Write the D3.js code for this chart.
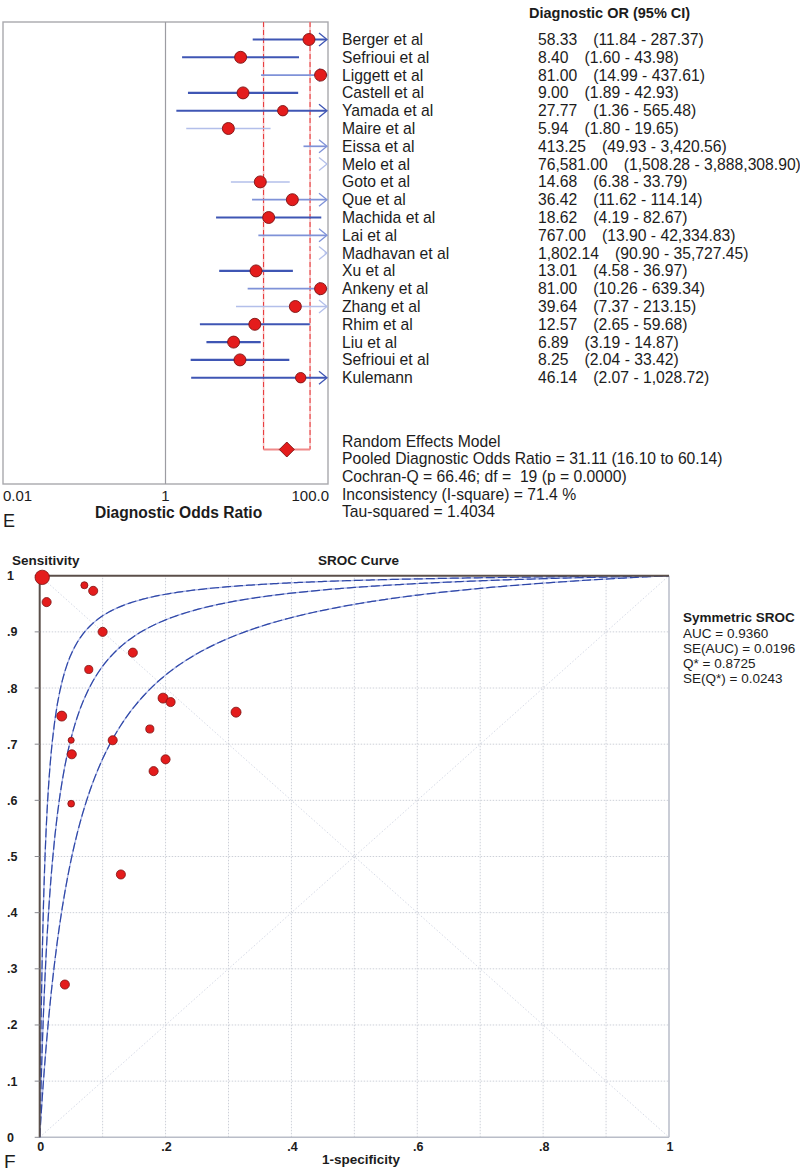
<!DOCTYPE html>
<html>
<head>
<meta charset="utf-8">
<script src="https://cdn.jsdelivr.net/npm/d3@7"></script>
<style>
  html, body { margin: 0; padding: 0; background: #fff; }
  svg { display: block; }
  text { font-family: Arial, "Liberation Sans", sans-serif; fill: #1c1c1c; }
</style>
</head>
<body>
<svg id="chart" width="800" height="1175"></svg>
<script>
// ---------------- Forest plot data ----------------
const studies = ["Berger et al", "Sefrioui et al", "Liggett et al", "Castell et al", "Yamada et al",
  "Maire et al", "Eissa et al", "Melo et al", "Goto et al", "Que et al", "Machida et al", "Lai et al",
  "Madhavan et al", "Xu et al", "Ankeny et al", "Zhang et al", "Rhim et al", "Liu et al",
  "Sefrioui et al", "Kulemann"];
const dorValues = [58.33, 8.40, 81.00, 9.00, 27.77, 5.94, 413.25, 76581.00, 14.68, 36.42, 18.62,
  767.00, 1802.14, 13.01, 81.00, 39.64, 12.57, 6.89, 8.25, 46.14];
const ciLower = [11.84, 1.60, 14.99, 1.89, 1.36, 1.80, 49.93, 1508.28, 6.38, 11.62, 4.19, 13.90,
  90.90, 4.58, 10.26, 7.37, 2.65, 3.19, 2.04, 2.07];
const ciUpper = [287.37, 43.98, 437.61, 42.93, 565.48, 19.65, 3420.56, 3888308.90, 33.79, 114.14,
  82.67, 42334.83, 35727.45, 36.97, 639.34, 213.15, 59.68, 14.87, 33.42, 1028.72];
const pooled = [31.11, 16.10, 60.14];
const forestTicks = [0.01, 1, 100];
const forestTickLabels = ["0.01", "1", "100.0"];
const summaryLines = ["Random Effects Model",
  "Pooled Diagnostic Odds Ratio = 31.11 (16.10 to 60.14)",
  "Cochran-Q = 66.46; df =  19 (p = 0.0000)",
  "Inconsistency (I-square) = 71.4 %",
  "Tau-squared = 1.4034"];

// ---------------- SROC data ----------------
const srocFPR = [0.004, 0.011, 0.071, 0.085, 0.100, 0.148, 0.078, 0.196, 0.208, 0.312,
  0.035, 0.175, 0.050, 0.116, 0.051, 0.200, 0.181, 0.050, 0.129, 0.040];
const srocTPR = [0.997, 0.953, 0.983, 0.973, 0.900, 0.863, 0.833, 0.782, 0.775, 0.757,
  0.750, 0.727, 0.707, 0.707, 0.682, 0.673, 0.652, 0.594, 0.468, 0.272];
const srocWeight = [5.0, 2.0, 1.2, 2.0, 2.0, 2.0, 1.6, 2.4, 2.0, 2.4,
  2.4, 1.6, 0.9, 2.0, 2.0, 2.0, 2.0, 1.1, 2.0, 2.0];
const srocCurveDOR = [117, 46.83, 18.6];   // upper band, Symmetric SROC, lower band
const srocTicks = [0, 0.1, 0.2, 0.3, 0.4, 0.5, 0.6, 0.7, 0.8, 0.9, 1];
const srocYLabels = ["0", ".1", ".2", ".3", ".4", ".5", ".6", ".7", ".8", ".9", "1"];
const srocXTicks = [0, 0.2, 0.4, 0.6, 0.8, 1];
const srocXLabels = ["0", ".2", ".4", ".6", ".8", "1"];
const srocStats = ["AUC = 0.9360", "SE(AUC) = 0.0196", "Q* = 0.8725", "SE(Q*) = 0.0243"];

// ---------------- Styling helpers ----------------
const mediumRows = new Set([2, 6, 9, 11, 14]);
const lightRows = new Set([5, 7, 8, 12, 15]);
const darkBlue = "#3f56b4", medBlue = "#7f92d8", lightBlue = "#b3bfea";
function rowColor(i) { return lightRows.has(i) ? lightBlue : mediumRows.has(i) ? medBlue : darkBlue; }

const svg = d3.select("#chart");
const fmt = d3.format(",.2f");

// ================= FOREST PLOT =================
const fx = d3.scaleLog().domain([0.01, 100]).range([3, 328]);
const fy = d3.scaleLinear().domain([0, studies.length - 1]).range([39.5, 377.7]);
const fTop = 22, fBottom = 484, summaryY = 449.5;
const forest = svg.append("g");

// frame
forest.append("rect").attr("x", fx(0.01)).attr("y", fTop)
  .attr("width", fx(100) - fx(0.01)).attr("height", fBottom - fTop)
  .attr("fill", "none").attr("stroke", "#a9a9ad").attr("stroke-width", 1.4);
forest.append("line").attr("x1", fx(1)).attr("x2", fx(1)).attr("y1", fTop).attr("y2", fBottom)
  .attr("stroke", "#9c9ca2").attr("stroke-width", 1.2);

// pooled CI bracket
[pooled[1], pooled[2]].forEach(v => {
  forest.append("line").attr("x1", fx(v)).attr("x2", fx(v)).attr("y1", fTop).attr("y2", summaryY)
    .attr("stroke", "#f6c2c2").attr("stroke-width", 1.6);
  forest.append("line").attr("x1", fx(v)).attr("x2", fx(v)).attr("y1", fTop).attr("y2", summaryY)
    .attr("stroke", "#e8383a").attr("stroke-width", 1).attr("stroke-dasharray", "5,3");
});
forest.append("line").attr("x1", fx(pooled[1])).attr("x2", fx(pooled[2]))
  .attr("y1", summaryY).attr("y2", summaryY).attr("stroke", "#f08a8a").attr("stroke-width", 2);

// CI lines
const xmin = 0.01, xmax = 100;
studies.forEach((s, i) => {
  const lo = Math.max(ciLower[i], xmin);
  const hiClipped = ciUpper[i] > xmax;
  const y = fy(i);
  const col = rowColor(i);
  const sw = lightRows.has(i) ? 1.5 : mediumRows.has(i) ? 1.7 : 2.1;
  if (ciLower[i] < xmax) {
    forest.append("line")
      .attr("x1", fx(lo)).attr("x2", hiClipped ? fx(xmax) - 2 : fx(ciUpper[i]))
      .attr("y1", y).attr("y2", y).attr("stroke", col).attr("stroke-width", sw);
  }
  if (hiClipped) {
    const tip = fx(xmax) - 1;
    forest.append("path")
      .attr("d", `M${tip - 8},${y - 6.5} L${tip},${y} L${tip - 8},${y + 6.5}`)
      .attr("fill", "none").attr("stroke", col).attr("stroke-width", 1.3);
  }
});
// points
studies.forEach((s, i) => {
  if (dorValues[i] <= xmax) {
    forest.append("circle").attr("cx", fx(dorValues[i])).attr("cy", fy(i))
      .attr("r", (i === 4 || i === 19) ? 5.2 : 6)
      .attr("fill", "#e41c1c").attr("stroke", "#7c1212").attr("stroke-width", 0.9);
  }
});
// pooled diamond
const px = fx(pooled[0]);
forest.append("path")
  .attr("d", `M${px - 7.5},${summaryY} L${px},${summaryY - 7.5} L${px + 7.5},${summaryY} L${px},${summaryY + 7.5} Z`)
  .attr("fill", "#e41c1c").attr("stroke", "#7c1212").attr("stroke-width", 0.9);

// axis labels
forestTicks.forEach((t, i) => {
  forest.append("text").attr("x", i === 0 ? 3 : i === 2 ? 329 : fx(t))
    .attr("y", 501).attr("font-size", 15)
    .attr("text-anchor", i === 0 ? "start" : i === 2 ? "end" : "middle")
    .text(forestTickLabels[i]);
});
forest.append("text").attr("x", 95).attr("y", 518).attr("font-size", 15.6)
  .attr("font-weight", "bold").text("Diagnostic Odds Ratio");
forest.append("text").attr("x", 3).attr("y", 527).attr("font-size", 18).text("E");

// right-hand table
forest.append("text").attr("x", 529).attr("y", 18).attr("font-size", 14.5)
  .attr("font-weight", "bold").text("Diagnostic OR (95% CI)");
studies.forEach((s, i) => {
  const y = fy(i) + 5.5;
  forest.append("text").attr("x", 342).attr("y", y).attr("font-size", 15.7).text(s);
  const v = forest.append("text").attr("x", 538).attr("y", y).attr("font-size", 15.7)
    .text(fmt(dorValues[i]));
  const w = v.node().getComputedTextLength();
  forest.append("text").attr("x", 538 + w + 16).attr("y", y).attr("font-size", 15.7)
    .text(`(${fmt(ciLower[i])} - ${fmt(ciUpper[i])})`);
});
summaryLines.forEach((l, i) => {
  forest.append("text").attr("x", 342).attr("y", 446.7 + i * 17.6).attr("font-size", 15.7)
    .style("white-space", "pre").text(l);
});

// ================= SROC PLOT =================
const sx = d3.scaleLinear().domain([0, 1]).range([39.7, 669]);
const sy = d3.scaleLinear().domain([0, 1]).range([1137.3, 575.7]);
const sroc = svg.append("g");

// gridlines
srocTicks.slice(1, -1).forEach(t => {
  sroc.append("line").attr("x1", sx(t)).attr("x2", sx(t)).attr("y1", sy(0)).attr("y2", sy(1))
    .attr("stroke", "#cdd0d8").attr("stroke-width", 1).attr("stroke-dasharray", "1.5,1.5");
  sroc.append("line").attr("x1", sx(0)).attr("x2", sx(1)).attr("y1", sy(t)).attr("y2", sy(t))
    .attr("stroke", "#cdd0d8").attr("stroke-width", 1).attr("stroke-dasharray", "1.5,1.5");
});
// diagonals
sroc.append("line").attr("x1", sx(0)).attr("y1", sy(0)).attr("x2", sx(1)).attr("y2", sy(1))
  .attr("stroke", "#d6daE6").attr("stroke-width", 1).attr("stroke-dasharray", "1.5,2");
sroc.append("line").attr("x1", sx(0)).attr("y1", sy(1)).attr("x2", sx(1)).attr("y2", sy(0))
  .attr("stroke", "#d6dae6").attr("stroke-width", 1).attr("stroke-dasharray", "1.5,2");

// frame: light bottom/right, dark top/left
sroc.append("line").attr("x1", sx(0)).attr("x2", sx(1)).attr("y1", sy(0)).attr("y2", sy(0))
  .attr("stroke", "#b9bdc8").attr("stroke-width", 1.5);
sroc.append("line").attr("x1", sx(1)).attr("x2", sx(1)).attr("y1", sy(0)).attr("y2", sy(1))
  .attr("stroke", "#b9bdc8").attr("stroke-width", 1.5);

// SROC curves
const fprGrid = d3.range(0, 0.02, 0.0002).concat(d3.range(0.02, 1.0001, 0.004));
const line = d3.line().x(d => sx(d[0])).y(d => sy(d[1]));
srocCurveDOR.forEach(D => {
  const pts = fprGrid.map(f => [f, f === 0 ? 0 : (D * f / (1 - f + 1e-12)) / (1 + D * f / (1 - f + 1e-12))]);
  pts[pts.length - 1] = [1, 1];
  sroc.append("path").attr("d", line(pts)).attr("fill", "none")
    .attr("stroke", "#a7b3e6").attr("stroke-width", 1.3);
  sroc.append("path").attr("d", line(pts)).attr("fill", "none")
    .attr("stroke", "#2f47a6").attr("stroke-width", 1.2).attr("stroke-dasharray", "9,3");
});

sroc.append("line").attr("x1", sx(0)).attr("x2", sx(1)).attr("y1", sy(1)).attr("y2", sy(1))
  .attr("stroke", "#5b4f4a").attr("stroke-width", 2);
sroc.append("line").attr("x1", sx(0)).attr("x2", sx(0)).attr("y1", sy(0)).attr("y2", sy(1))
  .attr("stroke", "#5b4f4a").attr("stroke-width", 2);

// y ticks
srocTicks.forEach((t, i) => {
  sroc.append("line").attr("x1", sx(0) - 5).attr("x2", sx(0)).attr("y1", sy(t)).attr("y2", sy(t))
    .attr("stroke", "#8a8a90").attr("stroke-width", 1);
  sroc.append("text").attr("x", 7).attr("y", sy(t) + 4.5).attr("font-size", 12.5)
    .attr("font-weight", "bold").attr("fill", "#333").text(srocYLabels[i]);
});
srocXTicks.forEach((t, i) => {
  sroc.append("text").attr("x", sx(t) + 1).attr("y", 1151).attr("font-size", 12.5)
    .attr("font-weight", "bold").attr("text-anchor", "middle").attr("fill", "#333").text(srocXLabels[i]);
});

// points
const rScale = d3.scaleSqrt().domain([0, d3.max(srocWeight)]).range([0, 7.2]);
srocFPR.forEach((f, i) => {
  sroc.append("circle").attr("cx", sx(f)).attr("cy", sy(srocTPR[i])).attr("r", rScale(srocWeight[i]))
    .attr("fill", "#e41c1c").attr("stroke", "#7c1212").attr("stroke-width", 0.8);
});

// titles
sroc.append("text").attr("x", 12).attr("y", 565).attr("font-size", 13.5).attr("font-weight", "bold")
  .text("Sensitivity");
sroc.append("text").attr("x", 318).attr("y", 565).attr("font-size", 13.5).attr("font-weight", "bold")
  .text("SROC Curve");
sroc.append("text").attr("x", 322).attr("y", 1164).attr("font-size", 13.5).attr("font-weight", "bold")
  .text("1-specificity");
sroc.append("text").attr("x", 4).attr("y", 1168).attr("font-size", 19).text("F");

// stats legend
sroc.append("text").attr("x", 683).attr("y", 622).attr("font-size", 13.5).attr("font-weight", "bold")
  .text("Symmetric SROC");
srocStats.forEach((s, i) => {
  sroc.append("text").attr("x", 683).attr("y", 637.5 + i * 15.2).attr("font-size", 13.5).text(s);
});
</script>
</body>
</html>
